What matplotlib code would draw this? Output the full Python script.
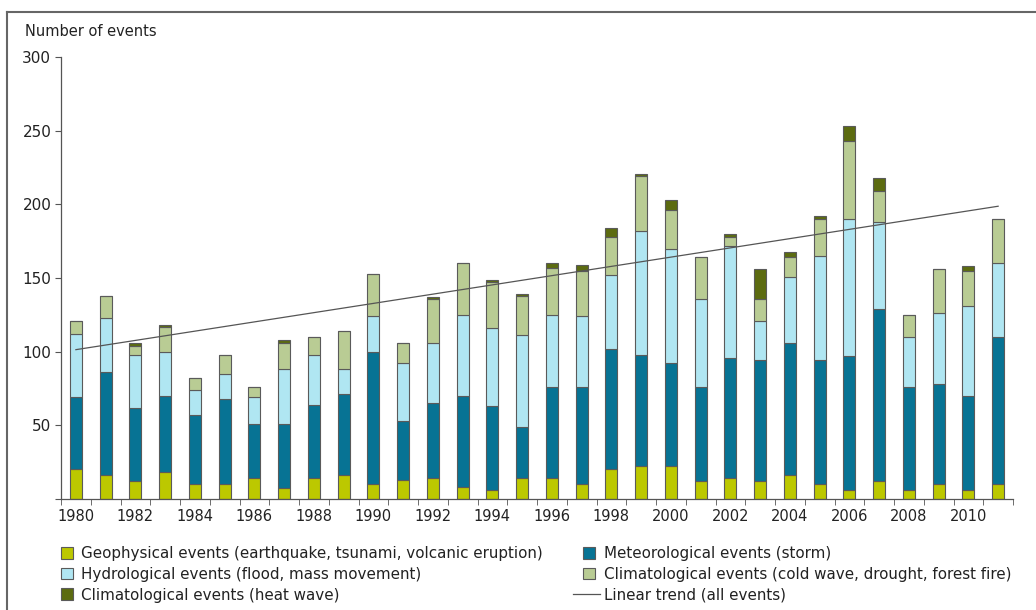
import numpy as np
import matplotlib
matplotlib.use("Agg")
import matplotlib.pyplot as plt
from matplotlib.lines import Line2D
from matplotlib.legend_handler import HandlerBase

plt.rcParams['font.family'] = ['DejaVu Sans']

# data
years = list(range(1980, 2012))
geophysical = [20, 16, 12, 18, 10, 10, 14, 7, 14, 16,
               10, 13, 14, 8, 6, 14, 14, 10, 20, 22,
               22, 12, 14, 12, 16, 10, 6, 12, 6, 10, 6, 10]
meteorological = [49, 70, 50, 52, 47, 58, 37, 44, 50, 55,
                  90, 40, 51, 62, 57, 35, 62, 66, 82, 76,
                  70, 64, 82, 82, 90, 84, 91, 117, 70, 68, 64, 100]
hydrological = [43, 37, 36, 30, 17, 17, 18, 37, 34, 17,
                24, 39, 41, 55, 53, 62, 49, 48, 50, 84,
                78, 60, 76, 27, 45, 71, 93, 59, 34, 48, 61, 50]
climatological = [9, 15, 6, 17, 8, 13, 7, 18, 12, 26,
                  29, 14, 30, 35, 31, 27, 32, 31, 26, 37,
                  26, 28, 6, 15, 13, 25, 53, 21, 15, 30, 24, 30]
heat_wave = [0, 0, 2, 1, 0, 0, 0, 2, 0, 0,
             0, 0, 1, 0, 2, 1, 3, 4, 6, 2,
             7, 0, 2, 20, 4, 2, 10, 9, 0, 0, 3, 0]

labels = [
    'Geophysical events (earthquake, tsunami, volcanic eruption)',
    'Meteorological events (storm)',
    'Hydrological events (flood, mass movement)',
    'Climatological events (cold wave, drought, forest fire)',
    'Climatological events (heat wave)',
]
colors = ['#bcc800', '#077394', '#b0e6f2', '#b9cc94', '#5c6b10']
series = [geophysical, meteorological, hydrological, climatological, heat_wave]


class LongLineHandler(HandlerBase):
    # trend line in the legend is wider than the colour boxes
    def create_artists(self, legend, orig_handle, xdescent, ydescent,
                       width, height, fontsize, trans):
        y = height / 2 - ydescent
        line = Line2D([-xdescent - 7.5, -xdescent + width + 3.5], [y, y],
                      color=orig_handle.get_color(), lw=orig_handle.get_linewidth())
        line.set_transform(trans)
        return [line]


fig = plt.figure(figsize=(10.36, 6.1), dpi=100)
ax = fig.add_axes([0.0589, 0.1823, 0.9189, 0.7238])

x = np.arange(len(years))
bottom = np.zeros(len(years))
bars = []
for vals, col, lab in zip(series, colors, labels):
    vals = np.array(vals, dtype=float)
    b = ax.bar(x, vals, 0.41, bottom=bottom, color=col,
               edgecolor='#5a5a5a', linewidth=0.8, label=lab, zorder=2)
    bars.append(b)
    bottom += vals

# linear trend of the totals
coef = np.polyfit(x, bottom, 1)
trend_line, = ax.plot(x, np.polyval(coef, x), color='#555555', lw=0.9, zorder=3)

ax.set_xlim(-0.5, len(years) - 0.5)
ax.set_ylim(0, 300)
ax.set_yticks([0, 50, 100, 150, 200, 250, 300])
ax.set_yticklabels(['', '50', '100', '150', '200', '250', '300'])
ax.set_xticks(x[::2])
ax.set_xticklabels([str(y) for y in years[::2]])
ax.set_xticks(np.arange(-0.5, len(years)), minor=True)
ax.tick_params(axis='x', which='major', length=0, pad=7, labelsize=10.5, colors='#222222')
ax.tick_params(axis='x', which='minor', length=4, direction='out', color='#555555')
ax.tick_params(axis='y', length=4, direction='out', color='#555555', pad=3,
               labelsize=11, labelcolor='#222222')
for s in ['top', 'right']:
    ax.spines[s].set_visible(False)
for s in ['left', 'bottom']:
    ax.spines[s].set_color('#555555')
    ax.spines[s].set_linewidth(0.9)

fig.text(25 / 1036, 1 - 31 / 610, 'Number of events', fontsize=10.5,
         color='#222222', va='center', ha='left')

# legend: columns filled top-down
handles = [bars[0], bars[2], bars[4], bars[1], bars[3], trend_line]
leg_labels = [labels[0], labels[2], labels[4], labels[1], labels[3],
              'Linear trend (all events)']
fig.legend(handles, leg_labels, loc='upper left',
           bbox_to_anchor=(61 / 1036, 1 - 546 / 610), ncol=2, frameon=False,
           fontsize=10.9, borderpad=0, borderaxespad=0,
           handlelength=0.8, handleheight=0.8,
           handletextpad=0.55, labelspacing=0.38, columnspacing=2.65,
           labelcolor='#222222', handler_map={trend_line: LongLineHandler()})

# outer frame (top and left only, as in the cropped original)
fig.add_artist(Line2D([7 / 1036, 1], [1 - 12 / 610, 1 - 12 / 610],
                      color='#666666', lw=1.5, transform=fig.transFigure))
fig.add_artist(Line2D([7 / 1036, 7 / 1036], [0, 1 - 12 / 610],
                      color='#666666', lw=1.5, transform=fig.transFigure))

fig.savefig('out.png', dpi=100)
